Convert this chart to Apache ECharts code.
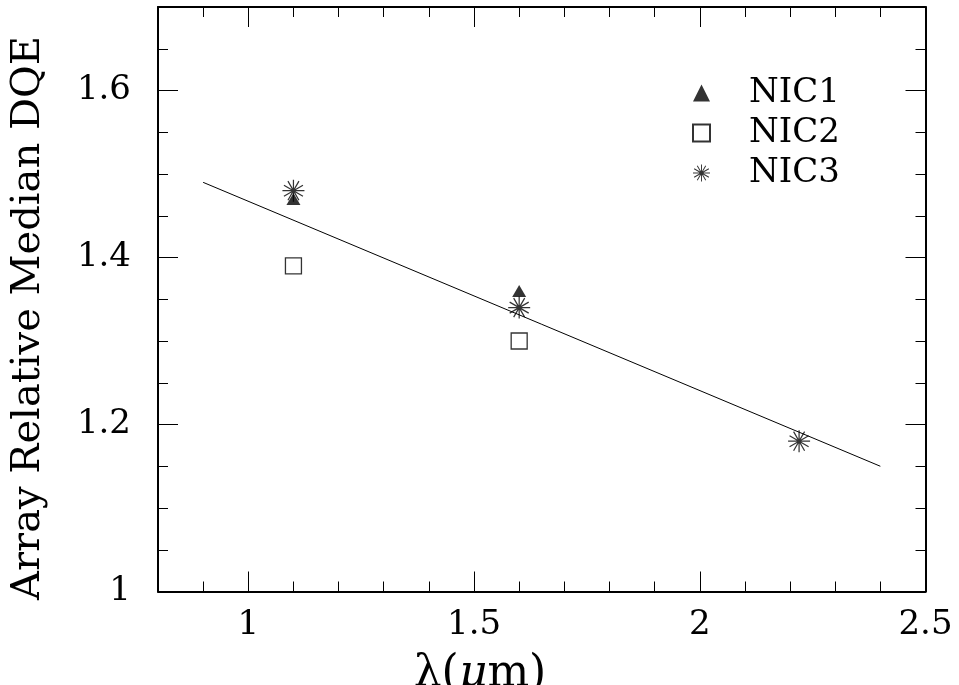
<!DOCTYPE html>
<html>
<head>
<meta charset="utf-8">
<script src="https://cdn.jsdelivr.net/npm/echarts@6/dist/echarts.min.js"></script>
<style>
html,body{margin:0;padding:0;background:#fff;}
#chart{width:959px;height:685px;}
</style>
</head>
<body>
<div id="chart"></div>
<script>
// ---- data ----
const seriesNames = ['NIC1', 'NIC2', 'NIC3'];
const nic1X = [1.1, 1.6];
const nic1Y = [1.47, 1.36];
const nic2X = [1.1, 1.6];
const nic2Y = [1.39, 1.30];
const nic3X = [1.1, 1.6, 2.22];
const nic3Y = [1.48, 1.34, 1.18];
const fitX = [0.9, 2.4];
const fitY = [1.49, 1.15];
const xMajorTicks = [1, 1.5, 2, 2.5];
const xMinorTicks = [0.9, 1.1, 1.2, 1.3, 1.4, 1.6, 1.7, 1.8, 1.9, 2.1, 2.2, 2.3, 2.4];
const yMajorTicks = [1, 1.2, 1.4, 1.6];
const yMinorTicks = [1.05, 1.1, 1.15, 1.25, 1.3, 1.35, 1.45, 1.5, 1.55, 1.65];
const xTitle = 'λ(μm)';
const yTitle = 'Array Relative Median DQE';

const FONT = 'DejaVu Serif';
const pairs = (xs, ys) => xs.map((x, i) => [x, ys[i]]);

// asterisk symbol path (thin bars through the centre)
function starPath(nLines, w) {
  let d = '';
  for (let k = 0; k < nLines; k++) {
    const t = Math.PI * k / nLines;
    const c = Math.cos(t), s = Math.sin(t);
    const pts = [[50 * c - w * -s, 50 * s - w * c], [50 * c + w * -s, 50 * s + w * c],
                 [-50 * c + w * -s, -50 * s + w * c], [-50 * c - w * -s, -50 * s - w * c]];
    d += 'M' + pts.map(p => (p[0] + 50).toFixed(2) + ' ' + (p[1] + 50).toFixed(2)).join('L') + 'Z';
  }
  return 'path://' + d;
}
const STAR = starPath(6, 2.8);

const chart = echarts.init(document.getElementById('chart'), null, {renderer: 'canvas'});

const X0 = 0.8, X1 = 2.5, Y0 = 1, Y1 = 1.7;
const lineStyle = {color: '#000', width: 2};
function xAx(pos, ticks, len, labels, line) {
  return {
    type: 'value', position: pos, min: X0, max: X1, gridIndex: 0,
    axisLine: {show: line, onZero: false, lineStyle},
    axisTick: {show: true, inside: true, length: len, customValues: ticks, lineStyle: {color: '#000', width: 1}},
    axisLabel: labels ? {show: true, customValues: ticks, margin: 17, fontFamily: FONT, fontSize: 34, color: '#000',
      formatter: v => String(v)} : {show: false},
    splitLine: {show: false}
  };
}
function yAx(pos, ticks, len, labels, line) {
  return {
    type: 'value', position: pos, min: Y0, max: Y1, gridIndex: 0,
    axisLine: {show: line, onZero: false, lineStyle},
    axisTick: {show: true, inside: true, length: len, customValues: ticks, lineStyle: {color: '#000', width: 1}},
    axisLabel: labels ? {show: true, customValues: ticks, margin: 27, fontFamily: FONT, fontSize: 34, color: '#000',
      formatter: v => String(v)} : {show: false},
    splitLine: {show: false}
  };
}

const option = {
  backgroundColor: '#fff',
  animation: false,
  grid: {left: 158, top: 7, width: 767.5, height: 584.5, containLabel: false},
  xAxis: [
    xAx('bottom', xMajorTicks, 20, true, true),
    xAx('bottom', xMinorTicks, 10, false, false),
    xAx('top', xMajorTicks, 20, false, true),
    xAx('top', xMinorTicks, 10, false, false)
  ],
  yAxis: [
    yAx('left', yMajorTicks, 20, true, true),
    yAx('left', yMinorTicks, 10, false, false),
    yAx('right', yMajorTicks, 20, false, true),
    yAx('right', yMinorTicks, 10, false, false)
  ],
  legend: {
    orient: 'vertical', left: 687, top: 71, itemWidth: 17, itemHeight: 17, itemGap: 6,
    data: seriesNames,
    textStyle: {fontFamily: FONT, fontSize: 34, color: '#000', padding: [0, 0, 0, 34]}
  },
  series: [
    {
      type: 'line', data: pairs(fitX, fitY), showSymbol: false, symbol: 'none',
      lineStyle: {color: '#000', width: 1}, silent: true, z: 1
    },
    {
      name: seriesNames[0], type: 'scatter', data: pairs(nic1X, nic1Y),
      symbol: 'triangle', symbolSize: [14, 12], itemStyle: {color: '#000'}, z: 2
    },
    {
      name: seriesNames[1], type: 'scatter', data: pairs(nic2X, nic2Y),
      symbol: 'rect', symbolSize: 16, itemStyle: {color: '#fff', borderColor: '#000', borderWidth: 1.3}, z: 2
    },
    {
      name: seriesNames[2], type: 'scatter', data: pairs(nic3X, nic3Y),
      symbol: STAR, symbolSize: 22, itemStyle: {color: '#000'}, z: 3
    }
  ],
  graphic: [
    {
      type: 'text', x: 29, y: 318, rotation: Math.PI / 2,
      style: {text: yTitle, fontFamily: FONT, fontSize: 40, fill: '#000', align: 'center', verticalAlign: 'middle'}
    },
    {
      type: 'text', x: 480, y: 653,
      style: {
        text: '{n|λ(}{i|μ}{n|m)}', align: 'center', verticalAlign: 'top',
        rich: {
          n: {fontFamily: FONT, fontSize: 44, fill: '#000'},
          i: {fontFamily: FONT, fontSize: 44, fontStyle: 'italic', fill: '#000'}
        }
      }
    }
  ]
};
chart.setOption(option);
</script>
</body>
</html>
